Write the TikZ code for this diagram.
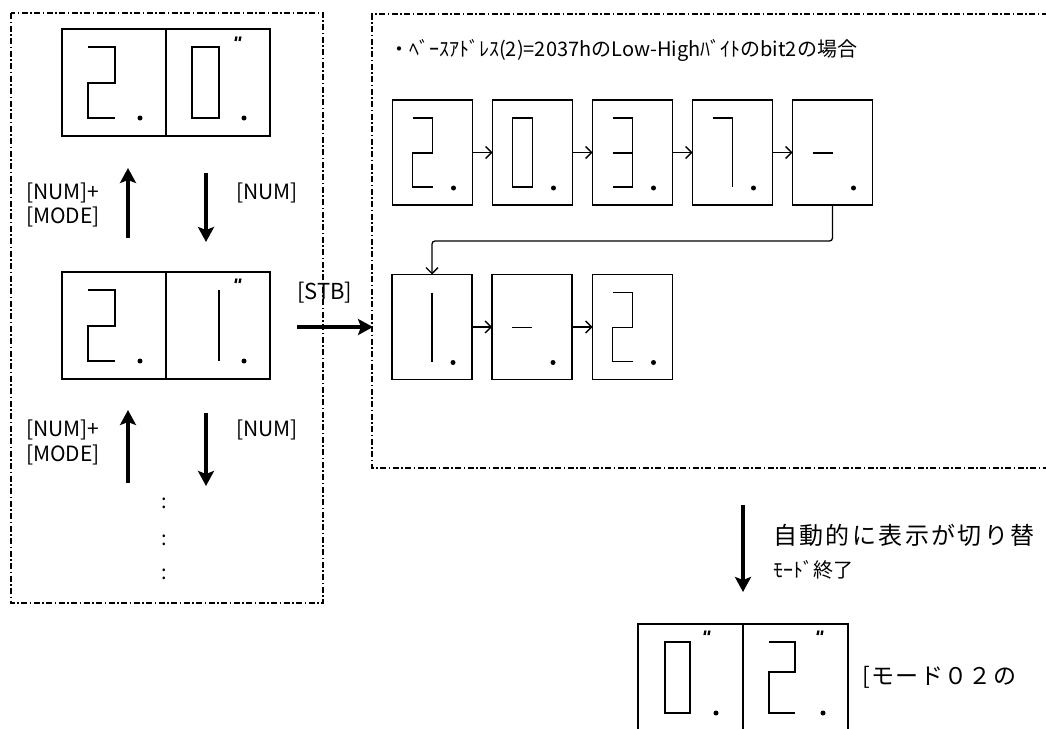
\documentclass[tikz,border=0pt]{standalone}
\usepackage{fontspec}
\setmainfont{Noto Sans CJK JP}
\usetikzlibrary{arrows.meta,calc}
\tikzset{
  bigcell/.style={draw, line width=1.6pt, minimum width=104pt, minimum height=107pt, inner sep=0pt, outer sep=0pt},
  smallcell/.style={draw, line width=1.6pt, minimum width=80pt, minimum height=105pt, inner sep=0pt, outer sep=0pt},
  seg/.style={line width=1.4pt},
  qmark/.style={line width=2.2pt},
  frame/.style={line width=1.1pt, dash pattern=on 6pt off 2.5pt on 1.5pt off 2.5pt},
  bigarrow/.style={line width=3.2pt, -{Stealth[length=15pt,width=16pt,inset=3pt]}},
  smallarrow/.style={line width=1.3pt, -{Straight Barb[length=6pt,width=12pt,line width=1.3pt]}},
  lbl/.style={font=\fontsize{21}{24}\selectfont, inner sep=0pt, anchor=west},
}
\newcommand\smallp{\def\pL{20}\def\pR{40}\def\pT{18}\def\pM{53}\def\pB{87}\def\pX{61}\def\pY{88}}
\newcommand\bigp{\def\pL{26}\def\pR{53}\def\pT{18}\def\pM{54}\def\pB{89}\def\pX{78}\def\pY{89}}
\newcommand\Dtwo{\draw[seg] (\pL,\pT) -- (\pR,\pT) -- (\pR,\pM) -- (\pL,\pM) -- (\pL,\pB) -- (\pR,\pB);}
\newcommand\Dzero{\draw[seg] (\pL,\pT) rectangle (\pR,\pB);}
\newcommand\Dthree{\draw[seg] (\pL,\pT) -- (\pR,\pT) -- (\pR,\pB) -- (\pL,\pB); \draw[seg] (\pL,\pM) -- (\pR,\pM);}
\newcommand\Dseven{\draw[seg] (\pL,\pT) -- (\pR,\pT) -- (\pR,\pB);}
\newcommand\Done{\draw[seg] (\pR,\pT) -- (\pR,\pB);}
\newcommand\Ddash{\draw[seg] (\pL,\pM) -- (\pR,\pM);}
\newcommand\Ddot{\fill (\pX,\pY) circle (2.5);}
\newcommand\Dquote[2]{\draw[qmark] (#1-1.5,#2-2.5) -- (#1-2.5,#2+2); \draw[qmark] (#1+2.5,#2-2.5) -- (#1+1.5,#2+2);}
\newcommand\cell[3]{\begin{scope}[shift={(#1.north west)}]#2#3\Ddot\end{scope}}
\begin{document}
\begin{tikzpicture}[x=1pt,y=-1pt]
\useasboundingbox (0,0) rectangle (1046,728);
\clip (0,0) rectangle (1046,728);

% frames
\draw[frame] (11,13) rectangle (323,603);
\draw[frame] (1060,14) -- (372,14) -- (372,468) -- (1060,468);

% left displays
\node[bigcell] (d1a) at (114,82.5) {};
\node[bigcell] (d1b) at (218,82.5) {};
\cell{d1a}{\bigp}{\Dtwo}
\cell{d1b}{\bigp}{\Dzero\Dquote{72}{10}}
\node[bigcell] (d2a) at (114,325.5) {};
\node[bigcell] (d2b) at (218,325.5) {};
\cell{d2a}{\bigp}{\Dtwo}
\cell{d2b}{\bigp}{\Done\Dquote{72}{9}}

% left arrows
\coordinate (ua1) at (128,238); \coordinate (ua2) at (128,168);
\coordinate (da1) at (206,173); \coordinate (da2) at (206,242);
\draw[bigarrow] (ua1) -- (ua2);
\draw[bigarrow] (da1) -- (da2);
\coordinate (ub1) at (128,483); \coordinate (ub2) at (128,410);
\coordinate (db1) at (206,413); \coordinate (db2) at (206,486);
\draw[bigarrow] (ub1) -- (ub2);
\draw[bigarrow] (db1) -- (db2);

\node[lbl] (n1) at (26,193) {[NUM]+};
\node[lbl] (m1) at (26,217) {[MODE]};
\node[lbl] (n2) at (236,193) {[NUM]};
\node[lbl] (n3) at (26,430) {[NUM]+};
\node[lbl] (m3) at (26,455) {[MODE]};
\node[lbl] (n4) at (236,430) {[NUM]};

\node[font=\fontsize{20}{24}\selectfont, inner sep=0pt] (c1) at (164,503) {:};
\node[font=\fontsize{20}{24}\selectfont, inner sep=0pt] (c2) at (164,540) {:};
\node[font=\fontsize{20}{24}\selectfont, inner sep=0pt] (c3) at (164,574) {:};

% title
\node[lbl, font=\fontsize{20}{24}\selectfont] (title) at (389,50) {・ﾍﾞｰｽｱﾄﾞﾚｽ(2)=2037hのLow-Highﾊﾞｲﾄのbit2の場合};

% row 1
\node[smallcell] (r11) at (432.5,152.5) {};
\node[smallcell] (r12) at (532.5,152.5) {};
\node[smallcell] (r13) at (632.5,152.5) {};
\node[smallcell] (r14) at (732.5,152.5) {};
\node[smallcell] (r15) at (832.5,152.5) {};
\cell{r11}{\smallp}{\Dtwo}
\cell{r12}{\smallp}{\Dzero}
\cell{r13}{\smallp}{\Dthree}
\cell{r14}{\smallp}{\Dseven}
\cell{r15}{\smallp}{\Ddash}
\draw[smallarrow] (r11) -- (r12);
\draw[smallarrow] (r12) -- (r13);
\draw[smallarrow] (r13) -- (r14);
\draw[smallarrow] (r14) -- (r15);

% row 2
\node[smallcell] (r21) at (432,327) {};
\node[smallcell] (r22) at (532,327) {};
\node[smallcell] (r23) at (632.5,327) {};
\cell{r21}{\smallp}{\Done}
\cell{r22}{\smallp}{\Ddash}
\cell{r23}{\smallp}{\Dtwo}
\draw[smallarrow] (r21) -- (r22);
\draw[smallarrow] (r22) -- (r23);
\draw[smallarrow, rounded corners=3pt] (r15.south) -- ++(0,36) -| (r21.north);

% STB
\draw[bigarrow] ([xshift=27pt,yshift=-1.5pt]d2b.east) -- ([xshift=-19pt]r21.west);
\node[lbl, font=\fontsize{22}{24}\selectfont] (stb) at (297,293) {[STB]};

% bottom
\coordinate (ea1) at (743,505); \coordinate (ea2) at (743,592);
\draw[bigarrow] (ea1) -- (ea2);
\node[lbl, font=\fontsize{24}{26}\selectfont\addfontfeature{LetterSpace=10}] (auto1) at (773,535) {自動的に表示が切り替};
\node[lbl, font=\fontsize{20}{26}\selectfont] (auto2) at (773,570) {ﾓｰﾄﾞ終了};

\node[bigcell, minimum width=105pt] (b1) at (690.5,677.5) {};
\node[bigcell, minimum width=105pt] (b2) at (795.5,677.5) {};
\cell{b1}{\bigp\def\pL{27}\def\pR{52}}{\Dzero\Dquote{69}{9}}
\cell{b2}{\bigp\def\pL{26}\def\pR{52}\def\pM{48}\def\pX{80}}{\Dtwo\Dquote{77}{9}}
\node[lbl, font=\fontsize{23}{26}\selectfont\addfontfeature{LetterSpace=6}] (mode) at (862,677) {[モード０２の};
\end{tikzpicture}
\end{document}
